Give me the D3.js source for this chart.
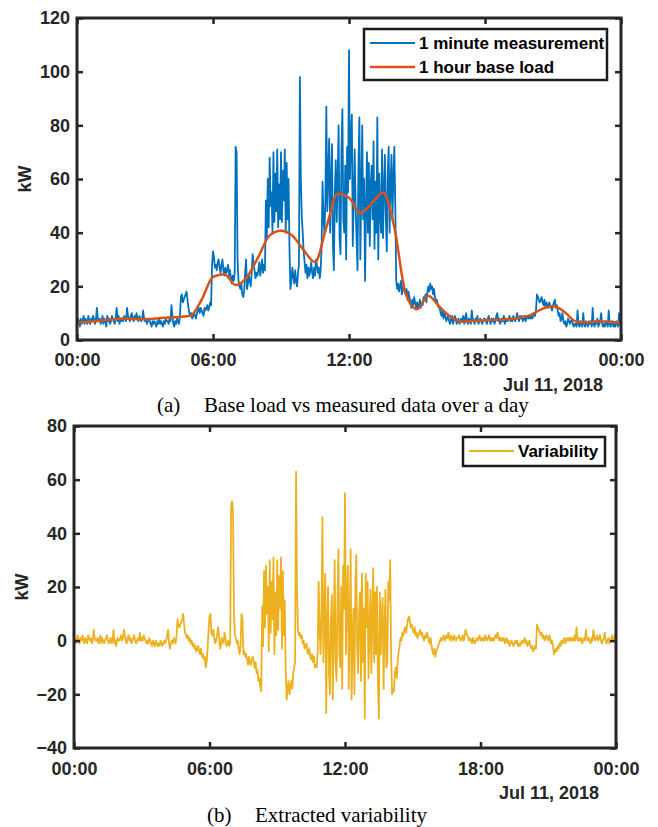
<!DOCTYPE html>
<html>
<head>
<meta charset="utf-8">
<script src="https://cdn.jsdelivr.net/npm/d3@7"></script>
<style>
  body { margin: 0; background: #fff; }
  svg { display: block; }
</style>
</head>
<body>
<div id="chart"></div>
<script>
// 2.5 minute samples, 00:00 .. 24:00 (one row per hour)
const measured = [
  6, 8, 7, 5, 8, 6, 7, 9, 6, 8, 7, 6, 9, 7, 6, 8, 7, 9, 8, 6, 7, 12, 8, 7,
  8, 6, 7, 9, 6, 8, 7, 5, 9, 7, 8, 6, 7, 9, 8, 7, 6, 8, 12, 7, 9, 6, 8, 7,
  8, 7, 9, 8, 7, 12, 9, 8, 7, 9, 10, 8, 7, 9, 8, 10, 8, 7, 9, 8, 7, 8, 11, 8,
  7, 8, 6, 7, 8, 7, 6, 5, 7, 6, 7, 6, 5, 7, 6, 8, 6, 7, 6, 5, 7, 6, 8, 7,
  7, 6, 8, 7, 13, 9, 6, 5, 7, 6, 8, 7, 6, 9, 16, 17, 14, 15, 16, 17, 18, 15, 12, 10,
  9, 10, 8, 9, 10, 9, 8, 10, 11, 12, 10, 12, 11, 10, 9, 12, 11, 12, 13, 11, 12, 14, 13, 28,
  33, 31, 27, 28, 26, 29, 30, 27, 25, 28, 30, 26, 24, 27, 25, 26, 28, 24, 26, 23, 21, 24, 22, 25,
  72, 70, 30, 22, 20, 19, 21, 17, 16, 18, 25, 30, 19, 21, 24, 22, 20, 25, 32, 28, 26, 23, 25, 24,
  26, 29, 24, 27, 30, 25, 28, 26, 52, 38, 60, 42, 68, 50, 55, 40, 70, 44, 62, 48, 71, 42, 58, 45,
  70, 44, 63, 52, 71, 40, 66, 45, 60, 34, 19, 22, 27, 24, 21, 26, 22, 20, 25, 28, 98, 60, 46, 40,
  33, 29, 25, 28, 23, 27, 24, 26, 29, 25, 23, 27, 24, 30, 28, 25, 27, 23, 26, 35, 59, 45, 40, 52,
  87, 48, 62, 75, 40, 58, 73, 35, 26, 55, 67, 44, 60, 80, 38, 32, 70, 86, 45, 40, 65, 30, 72, 55,
  108, 60, 75, 84, 35, 52, 71, 50, 38, 26, 65, 83, 30, 55, 80, 45, 60, 22, 48, 70, 40, 66, 35, 58,
  65, 45, 74, 34, 59, 40, 83, 30, 62, 48, 40, 71, 38, 55, 69, 46, 33, 62, 72, 40, 58, 69, 45, 60,
  72, 50, 22, 19, 21, 18, 20, 22, 17, 19, 21, 18, 17, 19, 15, 18, 16, 14, 12, 15, 13, 16, 14, 12,
  14, 12, 13, 15, 12, 14, 13, 16, 15, 17, 14, 18, 20, 18, 21, 19, 20, 17, 19, 16, 14, 15, 13, 12,
  12, 10, 9, 11, 8, 10, 9, 7, 8, 9, 7, 6, 8, 9, 6, 7, 9, 8, 6, 7, 8, 6, 7, 8,
  7, 9, 6, 8, 10, 7, 6, 8, 7, 6, 11, 8, 7, 6, 8, 7, 9, 6, 7, 8, 7, 6, 7, 8,
  8, 7, 6, 8, 9, 7, 6, 8, 7, 8, 6, 7, 9, 10, 7, 8, 6, 7, 8, 7, 9, 6, 8, 7,
  7, 8, 9, 7, 8, 7, 9, 8, 7, 8, 10, 8, 7, 9, 8, 9, 7, 8, 9, 7, 8, 9, 8, 9,
  8, 9, 8, 9, 10, 9, 11, 17, 16, 15, 14, 15, 16, 14, 13, 15, 12, 14, 13, 12, 14, 13, 12, 11,
  13, 14, 15, 12, 13, 11, 9, 10, 7, 8, 10, 7, 6, 7, 5, 6, 8, 7, 6, 7, 8, 6, 5, 6,
  6, 5, 11, 6, 5, 7, 6, 5, 10, 6, 5, 7, 6, 5, 7, 6, 7, 5, 12, 6, 5, 7, 6, 8,
  5, 6, 7, 10, 6, 5, 6, 5, 7, 6, 5, 11, 6, 5, 6, 7, 5, 6, 5, 7, 6, 5, 10, 6,
  6
];

// 30 minute samples, 00:00 .. 24:00
const baseLoad = [
  6.5, 6.8, 7.2, 7.6, 8.0, 7.8, 7.7, 8.0, 8.4, 8.6, 9.0, 15.0,
  23.5, 24.5, 20.5, 23.5, 31, 39, 40.7, 38.9, 33.5, 29, 42, 54.5,
  53, 47.3, 50.8, 55, 42, 17.3, 11.5, 16.5, 12.3, 8.6, 6.8, 7.2,
  7.4, 7.5, 7.7, 8.3, 9.3, 11.5, 12.7, 10.5, 7.0, 6.5, 7.0, 6.8,
  6.4
];

// 2.5 minute samples, 00:00 .. 24:00 (one row per hour)
const variability = [
  1, 0, -1, 1, 2, 0, -1, 1, 0, 2, 0, -1, 1, 0, -1, 2, 1, 0, 1, -1, 0, 4, 1, 0,
  0, 1, -1, 0, 2, -1, 1, 0, -1, 0, 1, 2, 0, -1, 0, 1, -1, 0, 4, -1, 0, -2, 1, 0,
  0, 1, 2, 0, 1, 4, 2, 0, -1, 1, 2, 0, 1, -1, 0, 1, 2, 0, -1, 0, 1, 0, 3, 0,
  1, 0, 2, 1, 0, -1, 0, -1, 1, 0, -1, -2, 0, -1, -2, 0, -1, -2, -1, -2, 0, -1, -2, -1,
  0, -1, 0, 2, 4, -1, -3, -1, 0, -1, 1, 0, -1, 2, 8, 6, 5, 6, 7, 8, 10, 6, 3, 2,
  1, 2, 0, 1, -1, 0, -2, -1, -3, -2, -4, -3, -2, -4, -5, -3, -6, -5, -7, -6, -10, -8, -3, 4,
  9, 10, 3, 2, 4, 1, -1, 0, 2, 5, 3, -3, -2, 1, 0, -1, 3, 1, -2, -1, 0, -2, -1, 50,
  52, 48, 10, 2, 1, -1, 0, -3, -5, -2, 10, 8, -5, -4, -6, -5, -7, -9, -6, -8, -9, -7, -6, -8,
  -10, -8, -12, -11, -15, -14, -17, -19, 13, -2, 26, 5, 28, 10, 20, -4, 30, 3, 22, 8, 31, -5, 18, 2,
  30, 4, 24, 12, 31, -3, 26, 2, 15, -12, -22, -18, -15, -20, -17, -15, -18, -12, -10, -8, 63, 20, 4, 2,
  3, 1, 2, -1, 0, -3, -2, -1, -4, -5, -3, -6, -7, -5, -8, -6, -10, -9, -10, -4, 22, 5, -5, 10,
  46, -8, 10, 25, -27, 5, 20, -12, -20, 8, 17, -22, 2, 30, -8, -15, 14, 34, -5, -10, 20, -18, 28, 12,
  55, -5, 15, 28, -18, 5, 34, -22, 0, 12, -20, 20, 32, -3, -12, 10, 18, -15, 25, -8, 12, -29, 25, 5,
  22, -14, 5, 19, -12, 10, 27, -8, 18, -5, 20, -15, -29, 18, -5, 10, 16, -18, 5, 19, -10, -8, 22, 15,
  30, -5, -20, -18, -19, -12, -10, -14, -8, -4, -2, 1, 0, 3, 2, 4, 5, 3, 6, 8, 9, 7, 5, 6,
  4, 3, 5, 2, 3, 1, 2, 3, 4, 2, 3, 1, 0, 2, 1, 3, 2, 0, -1, 1, -2, -4, -5, -3,
  -6, -4, -3, -2, -1, 0, 1, 0, 1, 2, 0, 1, 2, 1, 3, 1, 0, 2, 1, 0, 2, 1, 0, 1,
  1, 2, 1, 0, 1, 2, 0, 1, 4, 3, 2, 1, 0, 1, 0, -1, 1, 0, -1, 0, 1, 0, 1, 2,
  0, 1, 0, 1, 0, 2, 1, 0, 1, 2, 0, 1, 0, 1, 0, 1, 2, 1, 3, 2, 0, 1, 0, 1,
  0, 1, -1, 0, 1, -1, 0, -2, -1, 0, -1, -2, -1, 0, -1, 0, -2, -1, -2, -1, 0, -1, 0, 1,
  -1, 0, -2, -1, 0, -2, -3, -2, -4, -3, -2, -3, 6, 5, 4, 3, 2, 3, 1, 2, 0, 1, 2, 1,
  0, 2, 1, -1, 0, -2, -5, -4, -3, -4, -2, -3, -1, -2, 0, -1, 0, 1, -1, 0, 1, 0, 1, 0,
  1, 0, 1, 0, 2, 0, 5, 1, 0, 1, 0, 1, -1, 0, 1, 0, 4, 1, 0, 1, 0, -1, 1, 0,
  4, 1, 0, 1, 2, 0, 1, 2, 0, -1, 0, 1, 3, 0, -1, 0, 1, -1, 0, 1, 2, 0, 1, 2,
  3
];

const topTicks = [0, 20, 40, 60, 80, 100, 120];
const bottomTicks = [-40, -20, 0, 20, 40, 60, 80];
const dateLabel = "Jul 11, 2018";
const captionA = ["(a)", "Base load vs measured data over a day"];
const captionB = ["(b)", "Extracted variability"];

const axisColor = "#262626";
const sans = "'Liberation Sans', Arial, sans-serif";
const serif = "'Liberation Serif', 'Times New Roman', serif";

const day0 = new Date(2018, 6, 10, 0, 0);
const day1 = new Date(2018, 6, 11, 0, 0);
// minutes between samples -> {t, v}
const at = (step) => (v, i) => ({t: new Date(day0.getTime() + i * step * 60000), v: v});

const svg = d3.select("#chart").append("svg")
    .attr("width", 658)
    .attr("height", 827);

function drawPanel(p) {
    let x = d3.scaleTime().domain([day0, day1]).range([p.left, p.right]);
    let y = d3.scaleLinear().domain(p.domain).range([p.bottom, p.top]);
    let g = svg.append("g");

    g.append("clipPath").attr("id", p.id + "-clip")
        .append("rect")
        .attr("x", p.left).attr("y", p.top)
        .attr("width", p.right - p.left).attr("height", p.bottom - p.top);

    let lines = g.append("g").attr("clip-path", `url(#${p.id}-clip)`);
    p.series.forEach(s => {
        lines.append("path")
            .datum(s.data)
            .attr("fill", "none")
            .attr("stroke", s.color)
            .attr("stroke-width", s.width)
            .attr("stroke-linejoin", "round")
            .attr("d", d3.line()
                .curve(s.curve || d3.curveLinear)
                .x(d => x(d.t))
                .y(d => y(d.v)));
    });

    let hourTicks = x.ticks(d3.timeHour.every(6));

    // bottom axis with labels
    g.append("g")
        .attr("transform", `translate(0,${p.bottom})`)
        .call(d3.axisBottom(x).tickValues(hourTicks).tickFormat(d3.timeFormat("%H:%M"))
            .tickSize(-6).tickPadding(p.xPad))
        .call(a => a.select(".domain").remove())
        .selectAll("text")
            .style("font", `bold 18px ${sans}`)
            .attr("fill", axisColor);
    // top axis, ticks only
    g.append("g")
        .attr("transform", `translate(0,${p.top})`)
        .call(d3.axisTop(x).tickValues(hourTicks).tickFormat("").tickSize(-6))
        .call(a => a.select(".domain").remove());
    // left axis with labels
    g.append("g")
        .attr("transform", `translate(${p.left},0)`)
        .call(d3.axisLeft(y).tickValues(p.ticks).tickSize(-6).tickPadding(7))
        .call(a => a.select(".domain").remove())
        .selectAll("text")
            .style("font", `bold 18px ${sans}`)
            .attr("fill", axisColor);
    // right axis, ticks only
    g.append("g")
        .attr("transform", `translate(${p.right},0)`)
        .call(d3.axisRight(y).tickValues(p.ticks).tickFormat("").tickSize(-6))
        .call(a => a.select(".domain").remove());

    g.selectAll(".tick line")
        .attr("stroke", axisColor)
        .attr("stroke-width", 2.5);

    g.append("rect")
        .attr("x", p.left).attr("y", p.top)
        .attr("width", p.right - p.left).attr("height", p.bottom - p.top)
        .attr("fill", "none")
        .attr("stroke", axisColor)
        .attr("stroke-width", 3);

    g.append("text")
        .attr("transform", `translate(${p.left - 52},${(p.top + p.bottom) / 2}) rotate(-90)`)
        .attr("text-anchor", "middle")
        .attr("dy", "0.35em")
        .style("font", `bold 18px ${sans}`)
        .attr("fill", axisColor)
        .text("kW");

    g.append("text")
        .attr("x", p.dateX)
        .attr("y", p.dateY)
        .attr("text-anchor", "end")
        .style("font", `bold 18px ${sans}`)
        .attr("fill", axisColor)
        .text(dateLabel);

    // legend
    let lg = g.append("g");
    lg.append("rect")
        .attr("x", p.legend.x).attr("y", p.legend.y)
        .attr("width", p.legend.w).attr("height", p.legend.h)
        .attr("fill", "#fff")
        .attr("stroke", "#1a1a1a")
        .attr("stroke-width", 2.5);
    p.series.forEach((s, i) => {
        let ly = p.legend.y + 14 + i * 24;
        lg.append("line")
            .attr("x1", p.legend.x + 6).attr("x2", p.legend.x + 51)
            .attr("y1", ly).attr("y2", ly)
            .attr("stroke", s.color)
            .attr("stroke-width", s.width);
        lg.append("text")
            .attr("x", p.legend.x + 55)
            .attr("y", ly)
            .attr("dy", "0.36em")
            .style("font", `bold 17px ${sans}`)
            .attr("fill", "#000")
            .text(s.name);
    });

    // caption
    let cap = g.append("text")
        .attr("y", p.capY)
        .style("font", `21px ${serif}`)
        .attr("fill", "#000");
    cap.append("tspan").attr("x", p.capX[0]).text(p.caption[0]);
    cap.append("tspan").attr("x", p.capX[1]).text(p.caption[1]);
}

drawPanel({
    id: "a",
    left: 77, right: 621, top: 18, bottom: 340,
    domain: [0, 120], ticks: topTicks, xPad: 13,
    dateX: 603, dateY: 391,
    legend: {x: 364, y: 29, w: 243, h: 51},
    caption: captionA, capX: [157, 204], capY: 412,
    series: [
        {name: "1 minute measurement", color: "#0072BD", width: 1.8,
         data: measured.map(at(2.5))},
        {name: "1 hour base load", color: "#D95319", width: 2.5,
         data: baseLoad.map(at(30)), curve: d3.curveMonotoneX}
    ]
});

drawPanel({
    id: "b",
    left: 74, right: 616, top: 426, bottom: 748,
    domain: [-40, 80], ticks: bottomTicks, xPad: 14,
    dateX: 599, dateY: 799,
    legend: {x: 463, y: 437, w: 142, h: 29},
    caption: captionB, capX: [207, 255], capY: 822,
    series: [
        {name: "Variability", color: "#EDB120", width: 1.8,
         data: variability.map(at(2.5))}
    ]
});
</script>
</body>
</html>
